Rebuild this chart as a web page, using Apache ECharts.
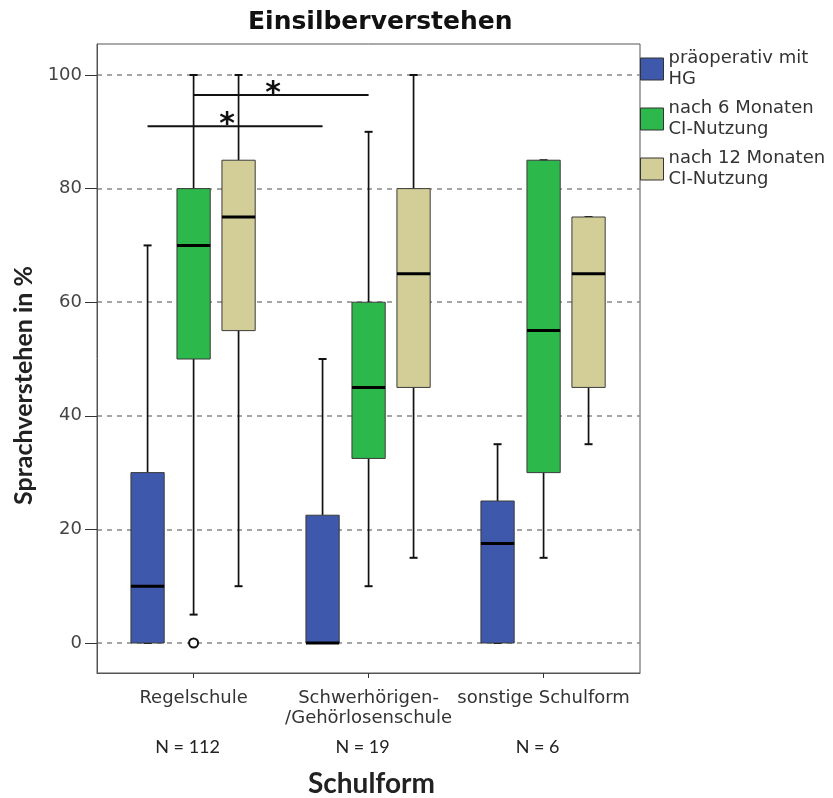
<!DOCTYPE html>
<html>
<head>
<meta charset="utf-8">
<script src="https://cdn.jsdelivr.net/npm/echarts@6/dist/echarts.min.js"></script>
<style>
  html, body { margin: 0; padding: 0; background: #fff; }
  #chart { width: 833px; height: 798px; }
</style>
</head>
<body>
<div id="chart"></div>
<script>
const categories = ['Regelschule', 'Schwerhörigen-\n/Gehörlosenschule', 'sonstige Schulform'];
const groupSizes = ['N = 112', 'N = 19', 'N = 6'];
const seriesNames = ['präoperativ mit HG', 'nach 6 Monaten CI-Nutzung', 'nach 12 Monaten CI-Nutzung'];
const legendLabels = ['präoperativ mit\nHG', 'nach 6 Monaten\nCI-Nutzung', 'nach 12 Monaten\nCI-Nutzung'];
// [min, Q1, median, Q3, max] per category
const preOp = [[0, 0, 10, 30, 70], [0, 0, 0, 22.5, 50], [0, 0, 17.5, 25, 35]];
const month6 = [[5, 50, 70, 80, 100], [10, 32.5, 45, 60, 90], [15, 30, 55, 85, 85]];
const month12 = [[10, 55, 75, 85, 100], [15, 45, 65, 80, 100], [35, 45, 65, 75, 75]];
// [category index, series index, value]
const outliers = [[0, 1, 0]];
// significance brackets: [series index, from category, to category, y]
const sigBars = [[1, 0, 1, 96.5], [0, 0, 1, 91]];
const yTicks = [0, 20, 40, 60, 80, 100];

const COLORS = ['#3e58ab', '#2db84b', '#d3ce98'];
const OFFSETS = [-0.263, 0, 0.257];
const BOX_W = 0.19;
const FONT = 'DejaVu Sans';

function boxRenderer(s) {
  return function (params, api) {
    const x = api.value(0) + OFFSETS[s];
    const v = [1, 2, 3, 4, 5].map((k) => api.value(k));
    const tl = api.coord([x - BOX_W / 2, v[3]]);
    const br = api.coord([x + BOX_W / 2, v[1]]);
    const pMin = api.coord([x, v[0]]);
    const pQ1 = api.coord([x, v[1]]);
    const pMed = api.coord([x, v[2]]);
    const pQ3 = api.coord([x, v[3]]);
    const pMax = api.coord([x, v[4]]);
    const cx = pMed[0];
    const ink = { stroke: '#111', lineWidth: 1.7 };
    const cap = { stroke: '#111', lineWidth: 2 };
    return {
      type: 'group',
      children: [
        { type: 'line', shape: { x1: cx, y1: pQ1[1], x2: cx, y2: pMin[1] }, style: ink },
        { type: 'line', shape: { x1: cx, y1: pQ3[1], x2: cx, y2: pMax[1] }, style: ink },
        { type: 'line', shape: { x1: cx - 4, y1: pMin[1], x2: cx + 4, y2: pMin[1] }, style: cap },
        { type: 'line', shape: { x1: cx - 4, y1: pMax[1], x2: cx + 4, y2: pMax[1] }, style: cap },
        {
          type: 'rect',
          shape: { x: tl[0], y: tl[1], width: br[0] - tl[0], height: br[1] - tl[1] },
          style: { fill: COLORS[s], stroke: '#3a3a3a', lineWidth: 1 }
        },
        { type: 'line', shape: { x1: tl[0], y1: pMed[1], x2: br[0], y2: pMed[1] }, style: { stroke: '#000', lineWidth: 3 } }
      ]
    };
  };
}

function sigRenderer(params, api) {
  const s = api.value(0);
  const p1 = api.coord([api.value(1) + 1 + OFFSETS[s], api.value(3)]);
  const p2 = api.coord([api.value(2) + 1 + OFFSETS[s], api.value(3)]);
  const sx = p1[0] + 0.455 * (p2[0] - p1[0]);
  return {
    type: 'group',
    children: [
      { type: 'line', shape: { x1: p1[0], y1: p1[1], x2: p2[0], y2: p2[1] }, style: { stroke: '#111', lineWidth: 2 } },
      {
        type: 'text', x: sx, y: p1[1] - 1,
        style: { text: '*', fontSize: 30, fontWeight: 'bold', fontFamily: FONT, fill: '#111', align: 'center', verticalAlign: 'middle' }
      }
    ]
  };
}

const groups = [preOp, month6, month12];
const boxSeries = groups.map((g, s) => ({
  name: seriesNames[s],
  type: 'custom',
  renderItem: boxRenderer(s),
  itemStyle: { color: COLORS[s], borderColor: '#333', borderWidth: 1 },
  data: g.map((d, i) => [i + 1].concat(d)),
  clip: false,
  z: 3
}));

const chart = echarts.init(document.getElementById('chart'), null, { renderer: 'canvas' });
chart.setOption({
  animation: false,
  backgroundColor: '#fff',
  title: {
    text: 'Einsilberverstehen',
    left: 248,
    top: 10,
    padding: 0,
    textStyle: { fontFamily: FONT, fontWeight: 'bold', fontSize: 25, color: '#111' }
  },
  legend: {
    data: seriesNames,
    orient: 'vertical',
    left: 640,
    top: 48,
    padding: 0,
    itemGap: 8,
    itemWidth: 23,
    itemHeight: 22,
    icon: 'rect',
    itemStyle: { borderColor: '#333', borderWidth: 1 },
    formatter: (name) => legendLabels[seriesNames.indexOf(name)],
    textStyle: { fontFamily: FONT, fontSize: 18, color: '#333', lineHeight: 21 }
  },
  grid: {
    left: 97, right: 193, top: 44, bottom: 125,
    outerBoundsMode: 'none',
    containLabel: false,
    show: true, borderColor: '#555', borderWidth: 1
  },
  xAxis: {
    type: 'value',
    min: 0.448,
    max: 3.551,
    axisLine: { show: true, onZero: false, lineStyle: { color: '#555', width: 1 } },
    axisTick: { show: true, customValues: [1, 2, 3], length: 5, lineStyle: { color: '#333' } },
    axisLabel: {
      customValues: [1, 2, 3],
      margin: 15,
      formatter: (v) => {
        const i = Math.round(v) - 1;
        const parts = categories[i].split('\n');
        while (parts.length < 2) parts.push(' ');
        return parts.map((p) => '{a|' + p + '}').join('\n') + '\n{n|' + groupSizes[i] + '}';
      },
      rich: {
        a: { fontFamily: FONT, fontSize: 18, color: '#333', lineHeight: 20 },
        n: { fontFamily: 'Lato', fontSize: 18, color: '#222', lineHeight: 38, padding: [0, 12, 0, 0] }
      }
    },
    splitLine: { show: false },
    name: 'Schulform',
    nameLocation: 'middle',
    nameGap: 97,
    nameTextStyle: { fontFamily: 'Lato', fontWeight: 'bold', fontSize: 28, color: '#222', padding: [0, 0, 0, 6] }
  },
  yAxis: {
    type: 'value',
    min: -5.28,
    max: 105.46,
    minInterval: 20,
    maxInterval: 20,
    axisLine: { show: true, onZero: false, lineStyle: { color: '#555', width: 1 } },
    axisTick: { show: true, customValues: yTicks, length: 12, lineStyle: { color: '#333' } },
    axisLabel: { customValues: yTicks, margin: 15, fontFamily: FONT, fontSize: 18, color: '#444' },
    splitLine: {
      show: true, showMinLine: true, showMaxLine: true,
      lineStyle: { type: [5, 5], color: '#888', width: 1.5 }
    },
    name: 'Sprachverstehen in %',
    nameLocation: 'middle',
    nameGap: 57,
    nameTextStyle: { fontFamily: 'Lato', fontWeight: 'bold', fontSize: 25, color: '#222', padding: [0, 54, 0, 0] }
  },
  series: boxSeries.concat([
    {
      type: 'scatter',
      data: outliers.map((o) => [o[0] + 1 + OFFSETS[o[1]], o[2]]),
      symbol: 'circle',
      symbolSize: 9,
      itemStyle: { color: '#fff', borderColor: '#111', borderWidth: 2, opacity: 1 },
      clip: false,
      z: 5
    },
    {
      type: 'custom',
      renderItem: sigRenderer,
      data: sigBars,
      clip: false,
      z: 6
    }
  ])
});
</script>
</body>
</html>
